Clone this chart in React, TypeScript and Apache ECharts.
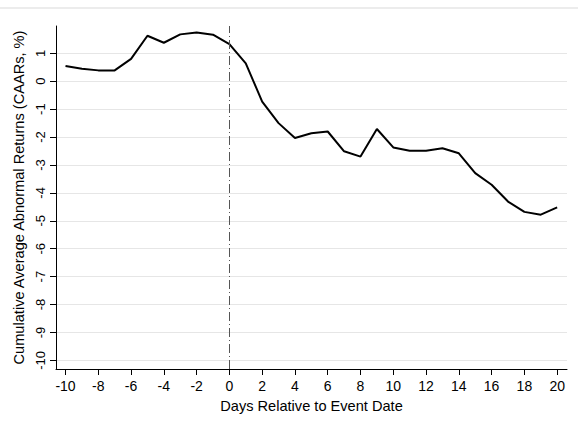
import React, { useEffect, useRef } from "react";
import * as echarts from "echarts";

const days = [-10, -9, -8, -7, -6, -5, -4, -3, -2, -1, 0, 1, 2, 3, 4, 5, 6, 7, 8, 9, 10, 11, 12, 13, 14, 15, 16, 17, 18, 19, 20];
const caar = [0.55, 0.45, 0.39, 0.39, 0.8, 1.63, 1.38, 1.68, 1.75, 1.67, 1.33, 0.64, -0.73, -1.5, -2.03, -1.86, -1.8, -2.51, -2.7, -1.71, -2.37, -2.49, -2.49, -2.4, -2.58, -3.29, -3.71, -4.31, -4.68, -4.78, -4.52];
const xTicks = [-10, -8, -6, -4, -2, 0, 2, 4, 6, 8, 10, 12, 14, 16, 18, 20];
const yTicks = [-10, -9, -8, -7, -6, -5, -4, -3, -2, -1, 0, 1];
const eventDay = 0;

const FONT = "'Liberation Sans', Arial, Helvetica, sans-serif";

export default function App() {
  const ref = useRef<HTMLDivElement>(null);
  useEffect(() => {
    if (!ref.current) return;
    const chart = echarts.init(ref.current, null, { renderer: "svg" });
    chart.setOption({
      animation: false,
      backgroundColor: "#ffffff",
      textStyle: { fontFamily: FONT },
      graphic: [
        {
          type: "rect",
          shape: { x: 0, y: 7, width: 578, height: 2 },
          style: { fill: "#ececec" },
          silent: true,
        },
      ],
      grid: { left: 56, top: 26, right: 11, bottom: 57, containLabel: false },
      xAxis: {
        type: "value",
        min: -10.58,
        max: 20.6,
        name: "Days Relative to Event Date",
        nameLocation: "middle",
        nameGap: 29,
        nameTextStyle: { fontSize: 14.6, color: "#000", fontFamily: FONT },
        axisLine: { show: true, onZero: false, lineStyle: { color: "#000", width: 1 } },
        axisTick: { show: true, length: 6, customValues: xTicks, lineStyle: { color: "#000" } },
        axisLabel: { customValues: xTicks, fontSize: 14, color: "#000", margin: 10, fontFamily: FONT },
        splitLine: { show: false },
      },
      yAxis: {
        type: "value",
        min: -10.31,
        max: 1.98,
        name: "Cumulative Average Abnormal Returns (CAARs, %)",
        nameLocation: "middle",
        nameRotate: 90,
        nameGap: 25,
        nameTextStyle: { fontSize: 14.6, color: "#000", fontFamily: FONT },
        axisLine: { show: true, onZero: false, lineStyle: { color: "#000", width: 1 } },
        axisTick: { show: true, length: 6, customValues: yTicks, lineStyle: { color: "#000" } },
        axisLabel: { customValues: yTicks, rotate: 90, fontSize: 13, color: "#000", margin: 9, fontFamily: FONT },
        splitLine: { show: true, lineStyle: { color: "#e6e6e6", width: 1 } },
      },
      series: [
        {
          type: "line",
          data: days.map((d, i) => [d, caar[i]]),
          showSymbol: false,
          symbol: "none",
          lineStyle: { color: "#000", width: 2 },
          z: 3,
          markLine: {
            silent: true,
            symbol: "none",
            label: { show: false },
            lineStyle: { color: "#555", width: 1, type: [9, 3, 1, 3] },
            data: [{ xAxis: eventDay }],
          },
        },
      ],
    });
    return () => chart.dispose();
  }, []);
  return (
    <div
      ref={ref}
      style={{ position: "fixed", left: 0, top: 0, width: 578, height: 426 }}
    />
  );
}
